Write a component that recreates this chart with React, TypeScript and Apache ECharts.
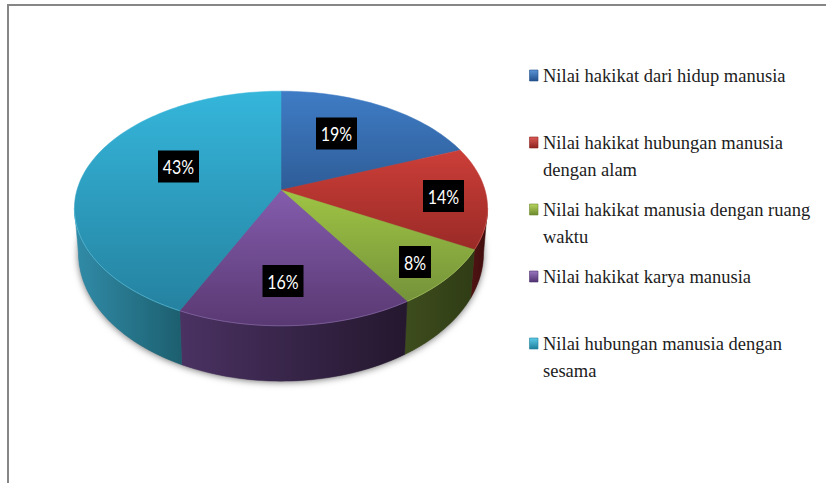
import React, { useEffect, useRef } from "react";
import * as echarts from "echarts";

const categories = [
  "Nilai hakikat dari hidup manusia",
  "Nilai hakikat hubungan manusia\ndengan alam",
  "Nilai hakikat manusia dengan ruang\nwaktu",
  "Nilai hakikat karya manusia",
  "Nilai hubungan manusia dengan\nsesama",
];
const values = [19, 14, 8, 16, 43];

const topStart = ["#3f7cc5", "#cc3e38", "#9fc444", "#845cad", "#35b6db"];
const topEnd = ["#2e5d98", "#9a2a27", "#74923a", "#593972", "#2582a0"];
const topGradY = [
  [91, 190],
  [150, 250],
  [190, 302],
  [190, 326],
  [91, 310],
];
const wallLeft = ["#1f3d66", "#521414", "#3e4d1d", "#4a3262", "#318ca8"];
const wallRight = ["#1f3d66", "#3d0d0d", "#2f3c15", "#24172e", "#1c5f6f"];
const rim = ["#5c90d0", "#d8605a", "#adc960", "#8f6fb0", "#63c6e2"];
const markerLight = ["#5b94d6", "#dc5a55", "#b7d45f", "#9a76c0", "#5ccbe8"];
const markerDark = ["#22508c", "#8c2320", "#6d8a2e", "#4f3270", "#1f7f9c"];

const W = 826;
const H = 483;
const CX = 281;
const K = 0.1575;
const TOP = { ay: 190, r: 204, h: 114.4 };
const BOTTOM = { ay: 233, r: 200, h: 124.8 };
const WALL_A = (Math.acos(-K) * 180) / Math.PI;
const WALL_B = 360 - WALL_A;
const labelBoxes = [
  [336.5, 133.5],
  [443.5, 196],
  [415, 262],
  [283, 281],
  [178.5, 166.5],
];
const legendY = [76, 143, 210, 277, 344];

type Proj = { ay: number; r: number; h: number };

function project(p: Proj, deg: number): number[] {
  const t = (deg * Math.PI) / 180;
  const u = Math.sin(t);
  const v = Math.cos(t);
  const w = 1 + K * v;
  return [CX + (p.r * u) / w, p.ay - (p.h * v) / w];
}
function arc(p: Proj, a: number, b: number): number[][] {
  const n = Math.max(2, Math.ceil(Math.abs(b - a) / 1.5));
  const pts: number[][] = [];
  for (let i = 0; i <= n; i++) pts.push(project(p, a + ((b - a) * i) / n));
  return pts;
}
const grad = (c1: string, c2: string, x0: number, y0: number, x1: number, y1: number) =>
  new echarts.graphic.LinearGradient(
    x0,
    y0,
    x1,
    y1,
    [
      { offset: 0, color: c1 },
      { offset: 1, color: c2 },
    ],
    true
  );

const total = values.reduce((s, v) => s + v, 0);
const sliceData = values.map((v, i) => ({
  name: categories[i],
  value: [v, values.slice(0, i).reduce((s, x) => s + x, 0)],
}));

function renderSlice(params: any, api: any) {
  const i = params.dataIndex;
  const val = api.value(0);
  const a = (api.value(1) / total) * 360;
  const b = a + (val / total) * 360;
  const children: any[] = [];

  const wa = Math.max(a, WALL_A);
  const wb = Math.min(b, WALL_B);
  if (wb > wa) {
    const topArc = arc(TOP, wa, wb);
    const botArc = arc(BOTTOM, wa, wb);
    const xs = topArc.concat(botArc).map((p) => p[0]);
    const fill = grad(wallLeft[i], wallRight[i], Math.min(...xs), 0, Math.max(...xs), 0);
    children.push({
      type: "polygon",
      shape: { points: topArc.concat(botArc.reverse()) },
      style: { fill, stroke: fill, lineWidth: 0.5 },
    });
  }

  const topFill = grad(topStart[i], topEnd[i], 0, topGradY[i][0], 0, topGradY[i][1]);
  const face = [[CX, TOP.ay]].concat(arc(TOP, a, b));
  children.push({
    type: "polygon",
    shape: { points: face },
    style: { fill: topFill, stroke: topFill, lineWidth: 0.5 },
  });
  if (wb > wa) {
    children.push({
      type: "polyline",
      shape: { points: arc(TOP, wa, wb) },
      style: { fill: "none", stroke: rim[i], lineWidth: 1, opacity: 0.6 },
    });
  }

  const text = val + "%";
  const bw = text.length > 2 ? 41 : 32;
  const [lx, ly] = labelBoxes[i];
  children.push({
    type: "rect",
    shape: { x: lx - bw / 2, y: ly - 16, width: bw, height: 32 },
    style: { fill: "#000" },
  });
  children.push({
    type: "text",
    x: lx,
    y: ly,
    scaleX: 0.8,
    style: {
      text,
      x: 0,
      y: 0,
      align: "center",
      verticalAlign: "middle",
      fill: "#fff",
      font: "20px Lato",
    },
  });
  return { type: "group", children };
}

function renderShadow() {
  return {
    type: "polygon",
    shape: { points: arc(BOTTOM, 0, 360) },
    style: {
      fill: "#777",
      shadowBlur: 7,
      shadowColor: "rgba(0,0,0,0.55)",
      shadowOffsetY: 1,
    },
  };
}

const legendGraphics = categories.flatMap((name, i) => [
  {
    type: "rect",
    shape: { x: 529.5, y: legendY[i] - 6, width: 8.5, height: 11 },
    style: {
      fill: new echarts.graphic.LinearGradient(0, 0, 0, 1, [
        { offset: 0, color: markerLight[i] },
        { offset: 1, color: markerDark[i] },
      ]),
      stroke: markerDark[i],
      lineWidth: 0.6,
    },
  },
  {
    type: "text",
    style: {
      text: name,
      x: 543,
      y: legendY[i] - 13.5,
      font: "18.5px 'Liberation Serif'",
      lineHeight: 27,
      fill: "#1c1c1c",
      verticalAlign: "top",
    },
  },
]);

export default function App() {
  const ref = useRef<HTMLDivElement>(null);
  useEffect(() => {
    document.body.style.margin = "0";
    document.body.style.background = "#fff";
    const chart = echarts.init(ref.current!, undefined, { renderer: "svg" });
    chart.setOption({
      animation: false,
      backgroundColor: "#ffffff",
      graphic: [
        {
          type: "polyline",
          shape: { points: [[8, H], [8, 5], [W, 5]] },
          style: { fill: "none", stroke: "#868686", lineWidth: 2 },
        },
        ...legendGraphics,
      ],
      series: [
        {
          type: "custom",
          coordinateSystem: "none",
          renderItem: renderShadow,
          data: [[0]],
          silent: true,
          z: 1,
        },
        {
          type: "custom",
          coordinateSystem: "none",
          renderItem: renderSlice,
          data: sliceData,
          silent: true,
          z: 2,
        },
      ],
    });
    return () => chart.dispose();
  }, []);
  return <div ref={ref} style={{ width: W, height: H, overflow: "hidden" }} />;
}
